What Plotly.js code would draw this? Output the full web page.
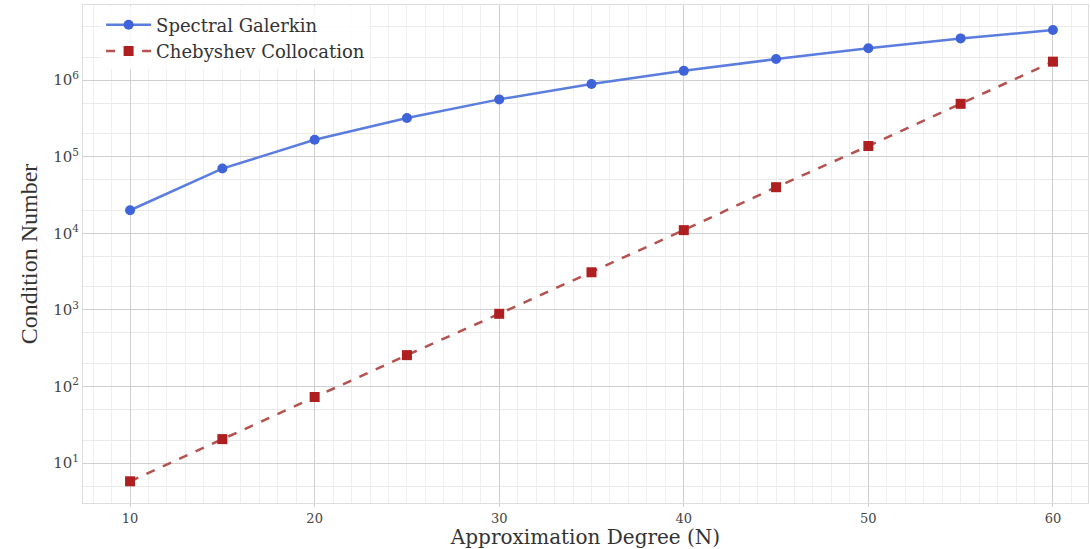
<!DOCTYPE html>
<html><head><meta charset="utf-8">
<script src="https://cdn.plot.ly/plotly-3.0.1.min.js"></script>
<style>html,body{margin:0;padding:0;background:#fff;}</style>
</head><body>
<div id="chart" style="width:1091px;height:549px;"></div>
<script>
const degrees = [10, 15, 20, 25, 30, 35, 40, 45, 50, 55, 60];
const galerkin = [2.0e4, 7.0e4, 1.66e5, 3.2e5, 5.6e5, 8.9e5, 1.32e6, 1.88e6, 2.6e6, 3.5e6, 4.5e6];
const chebyshev = [5.8, 20.6, 73, 257, 890, 3.1e3, 1.1e4, 4.0e4, 1.38e5, 4.9e5, 1.74e6];
const yTickVals = [10, 100, 1000, 10000, 100000, 1000000];
const yTickText = ['10<sup>1</sup>', '10<sup>2</sup>', '10<sup>3</sup>', '10<sup>4</sup>', '10<sup>5</sup>', '10<sup>6</sup>'];
const xTickVals = [10, 20, 30, 40, 50, 60];

const traces = [
  {x: degrees, y: galerkin, name: 'Spectral Galerkin', mode: 'lines+markers', type: 'scatter',
   line: {color: '#5b7ddf', width: 2.5}, marker: {color: '#3f63d8', size: 10, symbol: 'circle'}},
  {x: degrees, y: chebyshev, name: 'Chebyshev Collocation', mode: 'lines+markers', type: 'scatter',
   line: {color: '#b5514e', width: 2.5, dash: 'dash'}, marker: {color: '#b01f1f', size: 10, symbol: 'square'}}
];
const layout = {
  width: 1091, height: 549,
  margin: {l: 83, r: 3, t: 5, b: 46},
  paper_bgcolor: '#fff', plot_bgcolor: '#fff',
  font: {family: 'DejaVu Serif, serif', color: '#444'},
  showlegend: true,
  legend: {x: 0.018, y: 0.997, xanchor: 'left', yanchor: 'top', bgcolor: 'rgba(255,255,255,0.85)',
           itemwidth: 45,
           font: {size: 18, color: '#333', family: 'DejaVu Serif, serif'}, tracegroupgap: 0},
  xaxis: {range: [7.45, 61.9], tickvals: xTickVals, ticks: 'outside', ticklen: 3, tickcolor: '#cccccc',
          tickfont: {size: 13, color: '#444'},
          showgrid: true, gridcolor: '#cfcfcf', gridwidth: 1, zeroline: false,
          showline: true, linecolor: '#dddddd', mirror: true,
          minor: {dtick: 1, showgrid: true, gridcolor: '#efefef', gridwidth: 1},
          title: {text: 'Approximation Degree (N)', font: {size: 20, color: '#333', family: 'DejaVu Serif, serif'}, standoff: 4}},
  yaxis: {type: 'log', range: [0.48, 6.98], tickvals: yTickVals, ticktext: yTickText, ticks: '',
          tickfont: {size: 15, color: '#444'},
          showgrid: true, gridcolor: '#cfcfcf', gridwidth: 1, zeroline: false,
          showline: true, linecolor: '#dddddd', mirror: true,
          minor: {showgrid: true, gridcolor: '#eaeaea', gridwidth: 1},
          title: {text: 'Condition Number', font: {size: 24, color: '#333', family: 'Liberation Serif, serif'}, standoff: 8}}
};
Plotly.newPlot('chart', traces, layout, {displayModeBar: false, staticPlot: true});
</script>
</body></html>
